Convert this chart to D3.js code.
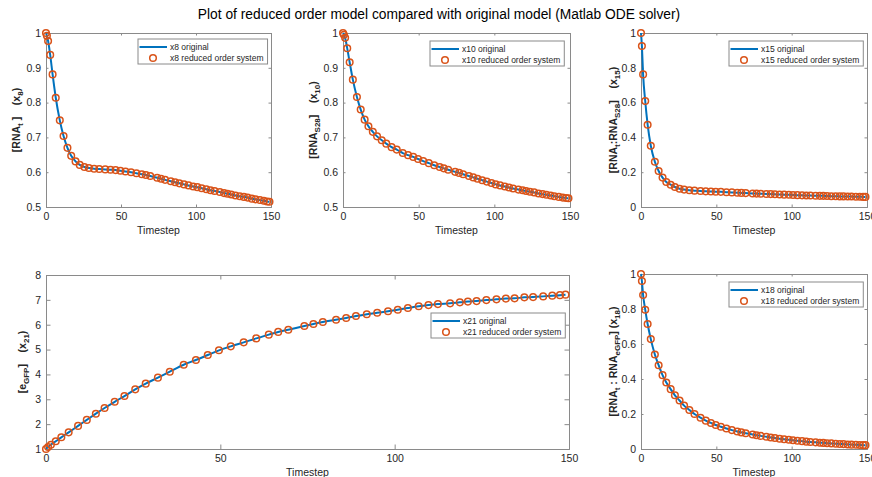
<!DOCTYPE html>
<html>
<head>
<meta charset="utf-8">
<script src="https://cdn.jsdelivr.net/npm/d3@7"></script>
<style>
  body { margin: 0; background: #fff; }
  svg { font-family: "Liberation Sans", Arial, Helvetica, sans-serif; }
  text, tspan { white-space: pre; }
</style>
</head>
<body>
<script>
// time points returned by the ODE solver (same grid for every state)
var timesteps = [0, 0.6, 1.4, 2.8, 4.4, 6.5, 9.2, 11.7, 14.3, 16.8, 19.7, 22.5, 25.6, 28.6, 32.1, 35.5,
  39.5, 43.0, 46.4, 49.6, 53.0, 56.7, 60.3, 63.9, 66.6, 69.5, 74.1, 76.7, 79.4, 83.2, 86.1, 88.9,
  92.0, 95.0, 98.1, 100.9, 103.8, 106.9, 109.7, 112.4, 115.9, 118.7, 121.0, 123.5, 126.3, 129.2,
  131.9, 134.4, 137.2, 139.7, 142.6, 145.2, 147.4, 149.0];

var x8 = [1.0, 0.992, 0.977, 0.937, 0.881, 0.814, 0.749, 0.704, 0.670, 0.647, 0.631, 0.621, 0.615,
  0.612, 0.610, 0.609, 0.608, 0.607, 0.606, 0.604, 0.602, 0.600, 0.597, 0.594, 0.592, 0.589, 0.584,
  0.581, 0.578, 0.574, 0.571, 0.568, 0.565, 0.562, 0.559, 0.557, 0.554, 0.551, 0.548, 0.546, 0.543,
  0.540, 0.538, 0.536, 0.533, 0.531, 0.529, 0.527, 0.524, 0.522, 0.520, 0.518, 0.516, 0.515];

var x10 = [1.0, 0.995, 0.986, 0.956, 0.916, 0.866, 0.816, 0.780, 0.751, 0.732, 0.716, 0.703, 0.692,
  0.682, 0.672, 0.665, 0.655, 0.649, 0.644, 0.638, 0.632, 0.626, 0.620, 0.615, 0.611, 0.607, 0.601,
  0.598, 0.594, 0.589, 0.585, 0.581, 0.577, 0.573, 0.569, 0.565, 0.562, 0.559, 0.556, 0.553, 0.550,
  0.548, 0.546, 0.544, 0.542, 0.539, 0.537, 0.535, 0.533, 0.531, 0.529, 0.527, 0.526, 0.525];

var x15 = [1.0, 0.925, 0.762, 0.609, 0.473, 0.352, 0.260, 0.207, 0.169, 0.144, 0.128, 0.115, 0.105,
  0.100, 0.096, 0.094, 0.092, 0.090, 0.089, 0.088, 0.087, 0.085, 0.084, 0.082, 0.081, 0.080, 0.078,
  0.077, 0.076, 0.075, 0.074, 0.073, 0.072, 0.071, 0.070, 0.069, 0.068, 0.067, 0.066, 0.066, 0.065,
  0.064, 0.064, 0.063, 0.062, 0.062, 0.061, 0.061, 0.060, 0.060, 0.059, 0.059, 0.058, 0.058];

var x21 = [1.0, 1.08, 1.17, 1.31, 1.47, 1.67, 1.93, 2.17, 2.42, 2.65, 2.90, 3.13, 3.40, 3.63, 3.87,
  4.11, 4.39, 4.58, 4.78, 4.97, 5.13, 5.29, 5.45, 5.60, 5.71, 5.80, 5.95, 6.03, 6.11, 6.20, 6.27,
  6.35, 6.42, 6.48, 6.54, 6.60, 6.67, 6.74, 6.79, 6.83, 6.86, 6.90, 6.93, 6.95, 6.99, 7.02, 7.05,
  7.06, 7.10, 7.11, 7.14, 7.17, 7.19, 7.21];

var x18 = [1.0, 0.960, 0.880, 0.796, 0.714, 0.628, 0.540, 0.479, 0.422, 0.380, 0.342, 0.307, 0.277,
  0.248, 0.223, 0.200, 0.179, 0.162, 0.149, 0.137, 0.127, 0.117, 0.108, 0.100, 0.095, 0.090, 0.083,
  0.079, 0.075, 0.070, 0.066, 0.063, 0.059, 0.056, 0.053, 0.050, 0.047, 0.045, 0.042, 0.040, 0.038,
  0.036, 0.035, 0.033, 0.032, 0.030, 0.029, 0.028, 0.026, 0.025, 0.024, 0.023, 0.022, 0.022];

var xTicks = [0, 50, 100, 150];
var yTicksHalf = [0.5, 0.6, 0.7, 0.8, 0.9, 1];
var yTicksUnit = [0, 0.2, 0.4, 0.6, 0.8, 1];
var yTicksGfp = [1, 2, 3, 4, 5, 6, 7, 8];

var titleText = "Plot of reduced order model compared with original model (Matlab ODE solver)";
var xLabelText = "Timestep";

// ylabel pieces: [text, isSubscript]
var ylab8 = [["[RNA", 0], ["t", 1], [" ]    (x", 0], ["8", 1], [")", 0]];
var ylab10 = [["[RNA", 0], ["S28", 1], ["]    (x", 0], ["10", 1], [")", 0]];
var ylab15 = [["[RNA", 0], ["t", 1], [":RNA", 0], ["S28", 1], ["]    (x", 0], ["15", 1], [")", 0]];
var ylab21 = [["[e", 0], ["GFP", 1], ["]    (x", 0], ["21", 1], [")", 0]];
var ylab18 = [["[RNA", 0], ["t", 1], [" : RNA", 0], ["eGFP", 1], ["] (x", 0], ["18", 1], [")", 0]];

var BLUE = "#0072BD", ORANGE = "#D95319", AXC = "#262626";

var W = 872, H = 477;
var svg = d3.select("body").append("svg").attr("width", W).attr("height", H);

svg.append("text")
  .attr("x", 439).attr("y", 19)
  .attr("text-anchor", "middle")
  .attr("font-size", 13.8)
  .attr("fill", "#000")
  .text(titleText);

var panels = [
  { name: "x8", vals: x8, box: [46, 271, 33, 207], y: [0.5, 1], yt: yTicksHalf, lab: ylab8, labX: 20, leg: [138, 39] },
  { name: "x10", vals: x10, box: [343, 570, 33, 207], y: [0.5, 1], yt: yTicksHalf, lab: ylab10, labX: 317, leg: [430, 41] },
  { name: "x15", vals: x15, box: [641, 867, 33, 207], y: [0, 1], yt: yTicksUnit, lab: ylab15, labX: 617, leg: [729, 41] },
  { name: "x21", vals: x21, box: [46, 569, 275, 449], y: [1, 8], yt: yTicksGfp, lab: ylab21, labX: 26, leg: [431, 313] },
  { name: "x18", vals: x18, box: [641, 867, 274, 449], y: [0, 1], yt: yTicksUnit, lab: ylab18, labX: 617, leg: [729, 282] }
];

panels.forEach(function(p) {
  var x0 = p.box[0], x1 = p.box[1], y0 = p.box[2], y1 = p.box[3];
  var xs = d3.scaleLinear().domain([0, 150]).range([x0, x1]);
  var ys = d3.scaleLinear().domain(p.y).range([y1, y0]);
  var tl = (x1 - x0) > 400 ? 4.5 : 2.5;
  var g = svg.append("g");

  var fmt = function(d) { return String(+d.toFixed(2)); };

  // bottom + top axes (ticks inward)
  var ax = g.append("g").attr("transform", "translate(0," + y1 + ")")
    .call(d3.axisBottom(xs).tickValues(xTicks).tickSize(-tl).tickPadding(6).tickFormat(fmt));
  var axT = g.append("g").attr("transform", "translate(0," + y0 + ")")
    .call(d3.axisTop(xs).tickValues(xTicks).tickSize(-tl).tickFormat(""));
  var ay = g.append("g").attr("transform", "translate(" + x0 + ",0)")
    .call(d3.axisLeft(ys).tickValues(p.yt).tickSize(-tl).tickPadding(5).tickFormat(fmt));
  var ayR = g.append("g").attr("transform", "translate(" + x1 + ",0)")
    .call(d3.axisRight(ys).tickValues(p.yt).tickSize(-tl).tickFormat(""));

  [ax, axT, ay, ayR].forEach(function(a) {
    a.select(".domain").attr("stroke", "#8a8a8a").attr("stroke-width", 1);
    a.selectAll(".tick line").attr("stroke", "#8a8a8a");
    a.selectAll("text").attr("fill", AXC).attr("font-size", 10.5).attr("font-family", null);
  });

  var pts = p.vals.map(function(v, i) { return { t: timesteps[i], v: v }; });

  var line = d3.line()
    .x(function(d) { return xs(d.t); })
    .y(function(d) { return ys(d.v); })
    .curve(d3.curveMonotoneX);

  g.append("path").datum(pts)
    .attr("d", line)
    .attr("fill", "none")
    .attr("stroke", BLUE)
    .attr("stroke-width", 2);

  g.selectAll("circle.m").data(pts).enter().append("circle")
    .attr("class", "m")
    .attr("cx", function(d) { return xs(d.t); })
    .attr("cy", function(d) { return ys(d.v); })
    .attr("r", 3.3)
    .attr("fill", "none")
    .attr("stroke", ORANGE)
    .attr("stroke-width", 1.5);

  // x label
  g.append("text")
    .attr("x", (x0 + x1) / 2).attr("y", y1 + 27)
    .attr("text-anchor", "middle")
    .attr("font-size", 10.5)
    .attr("fill", AXC)
    .text(xLabelText);

  // y label (rotated, with subscripts)
  var yl = g.append("text")
    .attr("transform", "translate(" + p.labX + "," + ((y0 + y1) / 2) + ") rotate(-90)")
    .attr("text-anchor", "middle")
    .attr("font-size", 10.5)
    .attr("font-weight", "bold")
    .attr("fill", AXC);
  var shifted = false;
  p.lab.forEach(function(part) {
    var ts = yl.append("tspan").text(part[0]);
    if (part[1]) {
      ts.attr("font-size", 8).attr("dy", shifted ? 0 : 3);
      shifted = true;
    } else {
      if (shifted) ts.attr("dy", -3);
      shifted = false;
    }
  });

  // legend
  var lx = p.leg[0], ly = p.leg[1];
  var lg = g.append("g");
  var rect = lg.append("rect")
    .attr("x", lx).attr("y", ly).attr("height", 25)
    .attr("fill", "#fff").attr("stroke", "#8a8a8a").attr("stroke-width", 1);
  lg.append("line")
    .attr("x1", lx + 1.5).attr("x2", lx + 29).attr("y1", ly + 8).attr("y2", ly + 8)
    .attr("stroke", BLUE).attr("stroke-width", 2);
  lg.append("circle")
    .attr("cx", lx + 15).attr("cy", ly + 19).attr("r", 3.3)
    .attr("fill", "none").attr("stroke", ORANGE).attr("stroke-width", 1.5);
  var t1 = lg.append("text").attr("x", lx + 32).attr("y", ly + 11)
    .attr("font-size", 8.5).attr("fill", AXC).text(p.name + " original");
  var t2 = lg.append("text").attr("x", lx + 32).attr("y", ly + 22)
    .attr("font-size", 8.5).attr("fill", AXC).text(p.name + " reduced order system");
  var tw = Math.max(t1.node().getComputedTextLength(), t2.node().getComputedTextLength());
  rect.attr("width", 32 + tw + 4);
});
</script>
</body>
</html>
